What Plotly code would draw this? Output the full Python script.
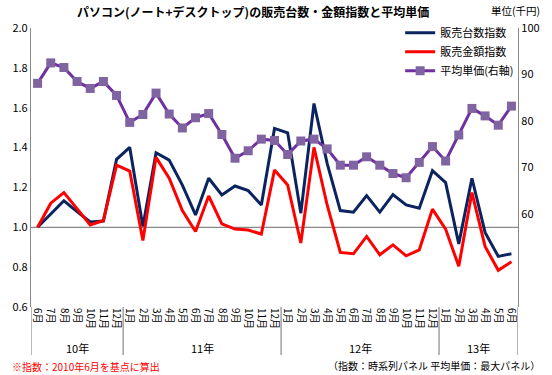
import plotly.graph_objects as go

months = ["6月","7月","8月","9月","10月","11月","12月",
          "1月","2月","3月","4月","5月","6月","7月","8月","9月","10月","11月","12月",
          "1月","2月","3月","4月","5月","6月","7月","8月","9月","10月","11月","12月",
          "1月","2月","3月","4月","5月","6月"]
years = ["10年", "11年", "12年", "13年"]
year_centers = [3, 12.5, 24.5, 33.5]
year_bounds = [-0.5, 6.5, 18.5, 30.5, 36.5]

units_index = [1.0, 1.066, 1.133, 1.079, 1.027, 1.031, 1.341, 1.401, 1.004, 1.374,
               1.337, 1.212, 1.062, 1.246, 1.162, 1.207, 1.184, 1.112, 1.496,
               1.474, 1.071, 1.621, 1.321, 1.084, 1.076, 1.159, 1.076, 1.164, 1.112,
               1.096, 1.284, 1.224, 0.917, 1.246, 0.974, 0.854, 0.867]
amount_index = [1.0, 1.121, 1.174, 1.09, 1.012, 1.034, 1.312, 1.282, 0.934, 1.351,
                1.246, 1.084, 0.979, 1.157, 1.017, 0.991, 0.986, 0.966, 1.287,
                1.212, 0.921, 1.401, 1.112, 0.874, 0.867, 0.954, 0.862, 0.912, 0.857,
                0.887, 1.091, 0.991, 0.804, 1.174, 0.904, 0.784, 0.827]
avg_price = [88.1, 92.5, 91.5, 88.5, 87.0, 88.5, 85.5, 79.7, 81.4, 86.0,
             81.5, 78.5, 80.7, 81.6, 77.1, 72.0, 73.6, 76.1, 75.8,
             72.8, 75.7, 76.1, 74.0, 70.5, 70.5, 72.3, 70.5, 68.7, 67.8,
             71.1, 74.5, 71.4, 77.0, 82.7, 81.1, 79.1, 83.2]

x = list(range(len(months)))
FONT = "Noto Sans CJK JP"

fig = go.Figure()
fig.add_trace(go.Scatter(x=x, y=units_index, name="販売台数指数", mode="lines",
                         line=dict(color="#0B2460", width=3)))
fig.add_trace(go.Scatter(x=x, y=amount_index, name="販売金額指数", mode="lines",
                         line=dict(color="#FF0000", width=3)))
fig.add_trace(go.Scatter(x=x, y=avg_price, name="平均単価(右軸)", mode="lines+markers",
                         line=dict(color="#7030A0", width=3),
                         marker=dict(symbol="square", size=9, color="#8064A2"),
                         yaxis="y2"))

shapes = [dict(type="line", xref="paper", yref="y", x0=0, x1=1, y0=1.0, y1=1.0,
               line=dict(color="#888888", width=1.2), layer="below")]
for b in year_bounds:
    shapes.append(dict(type="line", xref="x", yref="paper", x0=b, x1=b, y0=0, y1=-0.172,
                       line=dict(color="#888888", width=1.2)))

def py(pix):
    return (307 - pix) / 279

def px(pix):
    return (pix - 30) / 493

annotations = []
for yl, c in zip(years, year_centers):
    annotations.append(dict(x=c, y=py(348), xref="x", yref="paper", yanchor="middle",
                            text=yl, showarrow=False,
                            font=dict(family=FONT, size=11, color="black")))
annotations += [
    dict(x=px(255), y=py(12), xref="paper", yref="paper", yanchor="middle",
         text="<b>パソコン(ノート+デスクトップ)の販売台数・金額指数と平均単価</b>",
         showarrow=False, font=dict(family=FONT, size=12, color="black")),
    dict(x=px(547), y=py(11), xref="paper", yref="paper", xanchor="right", yanchor="middle",
         text="単位(千円)", showarrow=False, font=dict(family=FONT, size=10.5, color="black")),
    dict(x=px(9), y=py(366), xref="paper", yref="paper", xanchor="left", yanchor="middle",
         text="※指数：2010年6月を基点に算出", showarrow=False,
         font=dict(family=FONT, size=10, color="#FF0000")),
    dict(x=px(547), y=py(365), xref="paper", yref="paper", xanchor="right", yanchor="middle",
         text="（指数：時系列パネル 平均単価：最大パネル）", showarrow=False,
         font=dict(family=FONT, size=10, color="black")),
]

fig.update_layout(
    width=552, height=375,
    margin=dict(l=30, r=29, t=28, b=68),
    paper_bgcolor="white", plot_bgcolor="white",
    font=dict(family=FONT, size=11, color="black"),
    xaxis=dict(range=[-0.5, 36.5], tickvals=x, ticktext=months, tickangle=90,
               showgrid=False, zeroline=False, showline=False, ticks="",
               tickfont=dict(size=10)),
    yaxis=dict(range=[0.6, 2.0], tickvals=[0.6, 0.8, 1.0, 1.2, 1.4, 1.6, 1.8, 2.0],
               tickformat=".1f", showgrid=False, zeroline=False, showline=True,
               linecolor="#888888", linewidth=1.2, ticks=""),
    yaxis2=dict(range=[40, 100], tickvals=[60, 70, 80, 90, 100], overlaying="y", side="right",
                showgrid=False, zeroline=False, showline=True, linecolor="#888888",
                linewidth=1.2, ticks=""),
    legend=dict(x=0.758, y=1.035, xanchor="left", yanchor="top", bgcolor="rgba(0,0,0,0)",
                font=dict(family=FONT, size=11), tracegroupgap=0, itemwidth=30),
    shapes=shapes,
    annotations=annotations,
)

fig.write_html("out.html", config={"displayModeBar": False},
               post_script="document.body.style.margin='0';")
